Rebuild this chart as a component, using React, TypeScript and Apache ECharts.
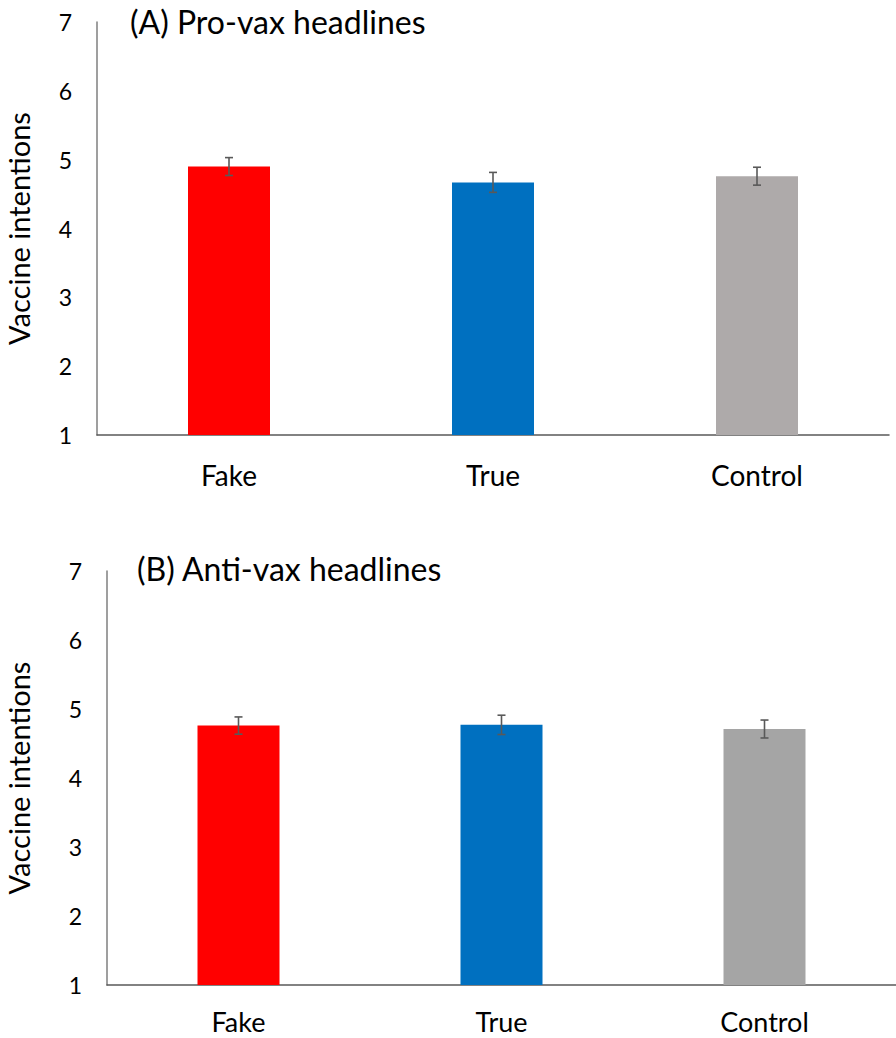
import React, { useEffect, useRef } from "react";
import * as echarts from "echarts";

const categories = ["Fake", "True", "Control"];
const proValues = [4.9, 4.67, 4.76];
const proErrors = [0.13, 0.145, 0.13];
const antiValues = [4.76, 4.77, 4.71];
const antiErrors = [0.125, 0.14, 0.13];
const proColors = ["#FF0000", "#0070C0", "#AEAAAA"];
const antiColors = ["#FF0000", "#0070C0", "#A5A5A5"];
const titles = ["(A) Pro-vax headlines", "(B) Anti-vax headlines"];
const yName = "Vaccine intentions";

const FONT = "Lato";

function errorSeries(values: number[], errors: number[], idx: number) {
  return {
    type: "custom",
    xAxisIndex: idx,
    yAxisIndex: idx,
    z: 10,
    data: values.map((v, i) => [i, v - errors[i], v + errors[i]]),
    renderItem: (params: any, api: any) => {
      const x = api.value(0);
      const lo = api.coord([x, api.value(1)]);
      const hi = api.coord([x, api.value(2)]);
      const cap = 4;
      const style = { stroke: "#595959", lineWidth: 1.6 };
      return {
        type: "group",
        children: [
          { type: "line", shape: { x1: lo[0], y1: lo[1], x2: hi[0], y2: hi[1] }, style },
          { type: "line", shape: { x1: hi[0] - cap, y1: hi[1], x2: hi[0] + cap, y2: hi[1] }, style },
          { type: "line", shape: { x1: lo[0] - cap, y1: lo[1], x2: lo[0] + cap, y2: lo[1] }, style },
        ],
      };
    },
  };
}

export default function App() {
  const ref = useRef<HTMLDivElement>(null);
  useEffect(() => {
    if (!ref.current) return;
    const chart = echarts.init(ref.current, null, { renderer: "svg" });
    const grids = [
      { left: 97, top: 22, width: 792, height: 413, containLabel: false, outerBoundsMode: "none" },
      { left: 107, top: 571, width: 789, height: 414, containLabel: false, outerBoundsMode: "none" },
    ];
    const xAxes = grids.map((_, i) => ({
      type: "category",
      gridIndex: i,
      data: categories,
      axisLine: { show: true, lineStyle: { color: "#595959", width: 1.5 } },
      axisTick: { show: false },
      axisLabel: {
        color: "#000",
        fontSize: i === 0 ? 28 : 27,
        lineHeight: 26,
        fontFamily: FONT,
        margin: i === 0 ? 27 : 23,
      },
    }));
    const yAxes = grids.map((_, i) => ({
      type: "value",
      gridIndex: i,
      min: 1,
      max: 7,
      interval: 1,
      name: yName,
      nameLocation: "middle",
      nameRotate: 90,
      nameGap: i === 0 ? 64 : 74,
      nameTextStyle: { color: "#000", fontSize: 29, fontFamily: FONT },
      axisLine: { show: true, lineStyle: { color: "#7F7F7F", width: 1.5 } },
      axisTick: { show: false },
      splitLine: { show: false },
      axisLabel: { color: "#000", fontSize: 23, fontFamily: FONT, margin: 25 },
    }));
    const barSeries = [
      { vals: proValues, cols: proColors },
      { vals: antiValues, cols: antiColors },
    ].map((s, i) => ({
      type: "bar",
      xAxisIndex: i,
      yAxisIndex: i,
      barWidth: 82,
      data: s.vals.map((v, j) => ({ value: v, itemStyle: { color: s.cols[j] } })),
    }));
    chart.setOption({
      animation: false,
      backgroundColor: "#fff",
      title: [
        { text: titles[0], left: 125, top: 0, textStyle: { fontSize: 32, fontWeight: "normal", color: "#000", fontFamily: FONT } },
        { text: titles[1], left: 132, top: 547, textStyle: { fontSize: 32, fontWeight: "normal", color: "#000", fontFamily: FONT } },
      ],
      grid: grids,
      xAxis: xAxes,
      yAxis: yAxes,
      series: [
        ...barSeries,
        errorSeries(proValues, proErrors, 0),
        errorSeries(antiValues, antiErrors, 1),
      ],
    });
    return () => chart.dispose();
  }, []);
  return (
    <div
      ref={ref}
      style={{ position: "fixed", left: 0, top: 0, width: 896, height: 1038 }}
    />
  );
}
